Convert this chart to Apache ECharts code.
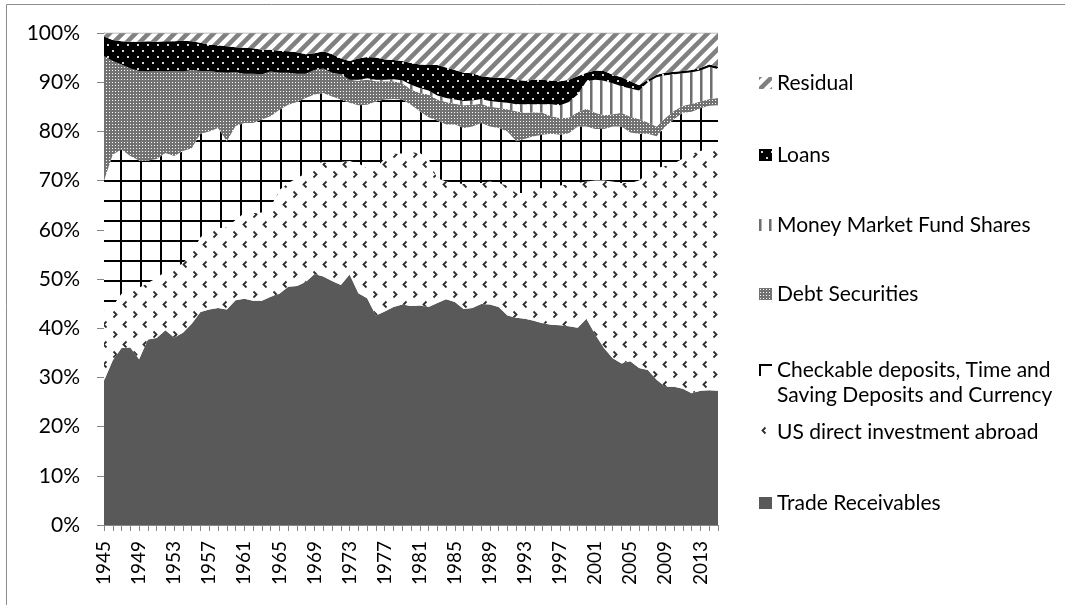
<!DOCTYPE html>
<html>
<head>
<meta charset="utf-8">
<title>Asset composition 1945-2015</title>
<script src="https://cdn.jsdelivr.net/npm/echarts@6/dist/echarts.min.js"></script>
<style>
  html, body { margin: 0; padding: 0; background: #fff; }
  #chart { width: 1065px; height: 605px; }
</style>
</head>
<body>
<div id="chart"></div>
<script>
// 年份
const years = [
  "1945", "1946", "1947", "1948", "1949", "1950", "1951", "1952", "1953", "1954",
  "1955", "1956", "1957", "1958", "1959", "1960", "1961", "1962", "1963", "1964",
  "1965", "1966", "1967", "1968", "1969", "1970", "1971", "1972", "1973", "1974",
  "1975", "1976", "1977", "1978", "1979", "1980", "1981", "1982", "1983", "1984",
  "1985", "1986", "1987", "1988", "1989", "1990", "1991", "1992", "1993", "1994",
  "1995", "1996", "1997", "1998", "1999", "2000", "2001", "2002", "2003", "2004",
  "2005", "2006", "2007", "2008", "2009", "2010", "2011", "2012", "2013", "2014",
  "2015",
];

// shares in percent, bottom of the stack first
const tradeReceivables = [
  29.3, 33.5, 36.0, 36.1, 33.7, 37.7, 38.0, 39.6, 38.1, 39.1,
  40.9, 43.3, 43.8, 44.1, 43.8, 45.7, 46.0, 45.6, 45.6, 46.4,
  47.0, 48.4, 48.6, 49.4, 51.0, 50.5, 49.6, 48.8, 50.9, 47.1,
  46.1, 42.6, 43.4, 44.3, 44.8, 44.5, 44.6, 44.3, 45.1, 45.9,
  45.3, 43.9, 44.1, 44.9, 44.8, 44.3, 42.6, 42.1, 41.9, 41.5,
  41.0, 40.7, 40.6, 40.4, 40.1, 41.9, 38.7, 36.0, 33.9, 32.8,
  33.3, 31.9, 31.5, 29.5, 28.1, 28.1, 27.7, 26.8, 27.3, 27.4, 27.3,
];
const usDirectInvestment = [
  14.2, 11.0, 11.0, 11.7, 14.5, 11.5, 12.2, 11.9, 14.1, 14.1,
  14.4, 15.2, 16.0, 16.2, 16.7, 16.3, 17.4, 17.8, 17.9, 18.3,
  21.1, 21.1, 21.9, 22.1, 22.5, 23.3, 23.7, 25.0, 23.1, 26.4,
  26.4, 29.9, 31.1, 31.2, 30.7, 31.3, 31.0, 30.2, 25.4, 23.9,
  24.2, 25.4, 25.4, 24.6, 25.0, 25.2, 26.4, 25.4, 25.6, 26.8,
  27.5, 27.8, 28.4, 28.9, 29.4, 27.9, 31.3, 34.0, 35.9, 36.7,
  36.2, 38.1, 40.0, 43.0, 44.9, 45.4, 46.8, 48.7, 48.7, 49.1, 49.7,
];
const checkableDeposits = [
  26.5, 30.8, 29.3, 27.2, 25.9, 24.9, 24.2, 24.1, 22.8, 22.8,
  21.3, 21.0, 20.2, 20.4, 17.5, 19.1, 18.3, 18.3, 18.9, 18.4,
  16.3, 15.9, 15.5, 15.3, 14.0, 14.0, 13.8, 12.7, 11.8, 11.8,
  12.9, 13.6, 12.0, 11.1, 11.0, 9.6, 8.5, 8.4, 11.7, 11.6,
  11.9, 11.4, 11.5, 12.2, 11.2, 11.2, 11.0, 10.5, 11.0, 10.7,
  10.8, 11.0, 10.3, 10.3, 11.5, 11.2, 10.5, 10.5, 11.2, 11.5,
  10.3, 9.5, 8.0, 6.5, 8.0, 9.0, 9.3, 8.5, 8.7, 8.7, 8.3,
];
const debtSecurities = [
  25.3, 19.0, 17.3, 17.8, 18.2, 18.1, 17.9, 16.6, 17.3, 16.2,
  15.9, 12.8, 12.3, 11.3, 13.9, 10.9, 10.0, 10.0, 9.2, 9.1,
  7.5, 6.5, 5.7, 4.9, 5.0, 5.0, 4.8, 5.1, 4.7, 5.0,
  5.1, 4.1, 3.7, 3.6, 3.3, 3.1, 3.7, 4.6, 4.3, 4.6,
  4.2, 4.6, 4.4, 3.9, 4.0, 4.1, 4.5, 6.1, 5.3, 4.9,
  4.5, 3.6, 3.4, 3.2, 2.9, 3.6, 3.3, 2.8, 2.5, 2.8,
  3.2, 3.0, 2.3, 2.0, 1.7, 1.7, 1.4, 1.6, 1.4, 1.4, 1.5,
];
const moneyMarketFunds = [
  0, 0, 0, 0, 0, 0, 0, 0, 0, 0,
  0, 0, 0, 0, 0, 0, 0, 0, 0, 0,
  0, 0, 0, 0, 0, 0, 0, 0, 0, 0.2,
  0.3, 0.3, 0.3, 0.4, 0.6, 1.0, 1.0, 0.8, 0.8, 0.8,
  0.9, 0.9, 0.9, 1.0, 1.2, 1.2, 1.3, 1.4, 1.7, 1.6,
  1.7, 2.4, 2.6, 3.2, 3.6, 5.6, 6.7, 7.0, 6.3, 5.4,
  5.7, 5.8, 8.2, 10.0, 8.7, 7.4, 6.6, 6.4, 6.3, 6.5, 5.9,
];
const loans = [
  4.0, 4.3, 4.7, 5.4, 5.9, 6.1, 5.9, 6.1, 6.0, 6.2,
  5.8, 5.7, 5.3, 5.5, 5.4, 5.1, 5.3, 5.2, 5.0, 4.4,
  4.5, 4.4, 4.4, 4.0, 3.4, 3.5, 3.8, 3.2, 3.8, 4.3,
  4.3, 4.5, 4.1, 3.9, 3.9, 4.4, 4.8, 5.2, 6.2, 6.2,
  6.0, 5.7, 5.5, 4.6, 4.8, 4.9, 5.0, 5.0, 4.8, 5.0,
  5.0, 4.8, 4.9, 4.5, 3.7, 1.7, 1.9, 2.0, 1.7, 1.8,
  1.5, 1.1, 0.5, 0.5, 0.5, 0.5, 0.5, 0.5, 0.5, 0.5, 0.5,
];
const residual = [
  0.7, 1.4, 1.7, 1.8, 1.8, 1.7, 1.8, 1.7, 1.7, 1.6,
  1.7, 2.0, 2.4, 2.5, 2.7, 2.9, 3.0, 3.1, 3.4, 3.4,
  3.6, 3.7, 3.9, 4.3, 4.1, 3.7, 4.3, 5.2, 5.7, 5.2,
  4.9, 5.0, 5.4, 5.5, 5.7, 6.1, 6.4, 6.5, 6.5, 7.0,
  7.5, 8.1, 8.2, 8.8, 9.0, 9.1, 9.2, 9.5, 9.7, 9.5,
  9.5, 9.7, 9.8, 9.5, 8.8, 8.1, 7.6, 7.7, 8.5, 9.0,
  9.8, 10.6, 9.5, 8.5, 8.1, 7.9, 7.7, 7.5, 7.1, 6.4, 6.8,
];

const names = [
  "Trade Receivables",
  "US direct investment abroad",
  "Checkable deposits, Time and Saving Deposits and Currency",
  "Debt Securities",
  "Money Market Fund Shares",
  "Loans",
  "Residual",
];
const values = [
  tradeReceivables,
  usDirectInvestment,
  checkableDeposits,
  debtSecurities,
  moneyMarketFunds,
  loans,
  residual,
];

/**
 * 画填充图案
 */
function pattern(w, h, paint) {
  const c = document.createElement("canvas");
  c.width = w;
  c.height = h;
  const ctx = c.getContext("2d");
  ctx.fillStyle = "#ffffff";
  ctx.fillRect(0, 0, w, h);
  paint(ctx, w, h);
  return { image: c, repeat: "repeat" };
}

const fills = [
  "#595959",
  // little < > marks
  pattern(20, 20, (ctx) => {
    ctx.strokeStyle = "#2e2e2e";
    ctx.lineWidth = 1.8;
    ctx.beginPath();
    ctx.moveTo(6.5, 1.5);
    ctx.lineTo(3.5, 4.5);
    ctx.lineTo(6.5, 7.5);
    ctx.moveTo(13.5, 11.5);
    ctx.lineTo(16.5, 14.5);
    ctx.lineTo(13.5, 17.5);
    ctx.stroke();
  }),
  // large grid
  pattern(20, 20, (ctx) => {
    ctx.fillStyle = "#000000";
    ctx.fillRect(0, 0, 20, 2);
    ctx.fillRect(0, 0, 2, 20);
  }),
  // fine checker
  pattern(3, 3, (ctx) => {
    ctx.fillStyle = "#727272";
    ctx.fillRect(0, 0, 3, 3);
    ctx.fillStyle = "#ffffff";
    ctx.fillRect(1, 1, 1, 1);
  }),
  // vertical lines
  pattern(10, 4, (ctx) => {
    ctx.fillStyle = "#6e6e6e";
    ctx.fillRect(0, 0, 2, 4);
    ctx.fillStyle = "#b4b4b4";
    ctx.fillRect(2, 0, 1, 4);
  }),
  // black with light dots
  pattern(10, 12, (ctx) => {
    ctx.fillStyle = "#000000";
    ctx.fillRect(0, 0, 10, 12);
    ctx.fillStyle = "#d6d6d6";
    ctx.fillRect(2, 2, 2, 2);
    ctx.fillRect(7, 8, 2, 2);
  }),
  // diagonal stripes
  pattern(13, 13, (ctx) => {
    ctx.strokeStyle = "#808080";
    ctx.lineWidth = 4.5;
    ctx.beginPath();
    ctx.moveTo(-3, 3);
    ctx.lineTo(3, -3);
    ctx.moveTo(-3, 16);
    ctx.lineTo(16, -3);
    ctx.moveTo(10, 16);
    ctx.lineTo(16, 10);
    ctx.stroke();
  }),
];

const series = names.map((name, i) => {
  return {
    name: name,
    type: "line",
    stack: "total",
    data: values[i],
    symbol: "none",
    color: "#595959",
    lineStyle:
      name === "Residual" ? { width: 1, color: "#a6a6a6" } : { width: 0 },
    areaStyle: { color: fills[i], opacity: 1 },
    emphasis: { disabled: true },
  };
});

// legend entries, top of the stack first
const legendCenters = [503, 432, 370, 294, 225, 155, 83];
const labelFont = { fontFamily: "Lato", color: "#000000" };

const legends = names.map((name, i) => {
  const twoLines = name.indexOf("Checkable") === 0;
  return {
    left: 759,
    top: twoLines ? legendCenters[i] - 37.5 : legendCenters[i] - 12,
    padding: 0,
    orient: "vertical",
    selectedMode: false,
    icon: "rect",
    itemWidth: 13,
    itemHeight: 12,
    data: [
      { name: name, itemStyle: { color: fills[i], borderWidth: 0 } },
    ],
    // empty first line keeps the icon level with the first text line
    formatter: (n) =>
      twoLines
        ? "\nCheckable deposits, Time and\nSaving Deposits and Currency"
        : n,
    textStyle: Object.assign(
      { fontSize: 21, lineHeight: twoLines ? 25 : 24 },
      labelFont
    ),
  };
});

const myChart = echarts.init(document.querySelector("#chart"));
const option = {
  animation: false,
  backgroundColor: "#ffffff",
  grid: { left: 104, top: 33, width: 614, height: 492 },
  legend: legends,
  xAxis: {
    type: "category",
    data: years,
    boundaryGap: false,
    axisLine: { lineStyle: { color: "#868686" } },
    axisTick: { interval: 0, length: 6, lineStyle: { color: "#868686" } },
    axisLabel: Object.assign(
      { interval: 3, rotate: 90, margin: 16, fontSize: 19 },
      labelFont
    ),
  },
  yAxis: {
    type: "value",
    min: 0,
    max: 100,
    interval: 10,
    splitLine: { show: false },
    axisLine: { show: true, lineStyle: { color: "#868686" } },
    axisTick: { show: true, length: 7, lineStyle: { color: "#868686" } },
    axisLabel: Object.assign(
      { formatter: "{value}%", margin: 24, fontSize: 21 },
      labelFont
    ),
  },
  graphic: [
    {
      type: "rect",
      shape: { x: 6.5, y: 4.5, width: 1200, height: 800 },
      style: { fill: "none", stroke: "#8c8c8c", lineWidth: 1 },
      silent: true,
    },
  ],
  series: series,
};
myChart.setOption(option);
window.addEventListener("resize", () => {
  myChart.resize();
});
</script>
</body>
</html>
